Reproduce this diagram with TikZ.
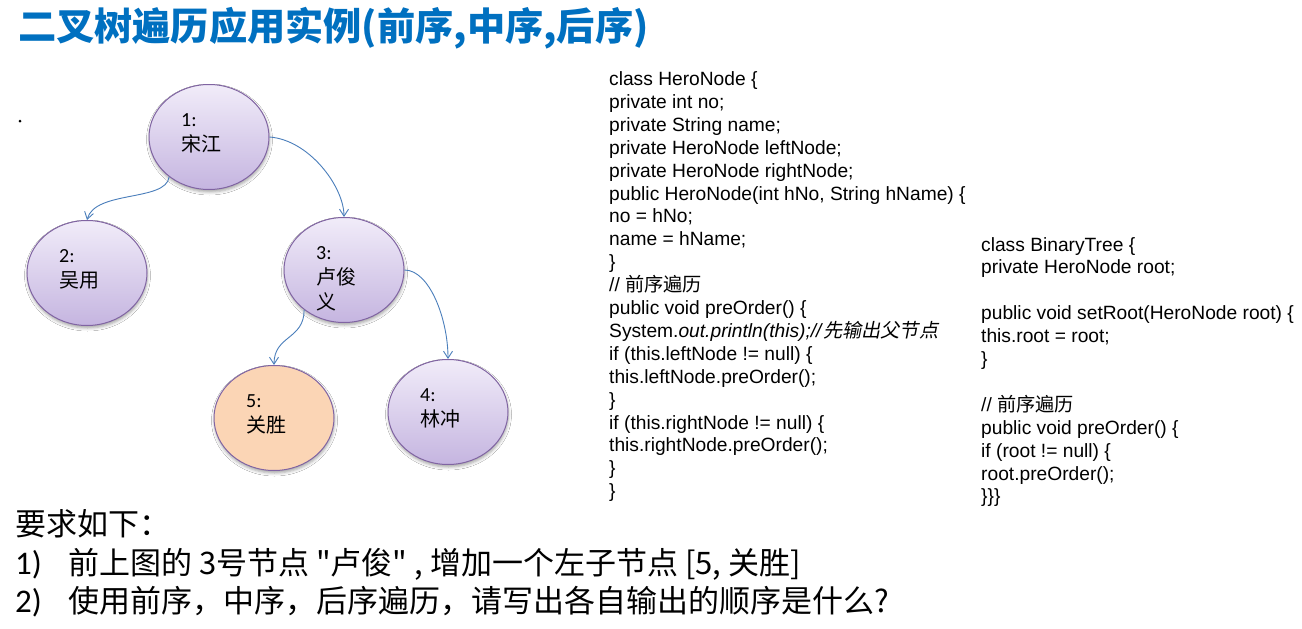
\documentclass[tikz,border=0pt]{standalone}
\usepackage{fontspec}
\setmainfont{Liberation Sans}
\newfontfamily\cjk{Noto Sans CJK SC}
\newfontfamily\cjkslant[FakeSlant=0.2]{Noto Sans CJK SC}
\newfontfamily\calibri{Carlito}
\usepackage{tikz}
\usetikzlibrary{arrows.meta, positioning, shapes.geometric, shadows.blur}
\definecolor{titleblue}{RGB}{0, 112, 192}
\definecolor{heroline}{RGB}{128, 100, 162}
\definecolor{herotop}{RGB}{241, 236, 249}
\definecolor{herobottom}{RGB}{197, 181, 224}
\definecolor{heropeach}{RGB}{251, 213, 181}
\definecolor{linkblue}{RGB}{74, 126, 187}

\begin{document}
\begin{tikzpicture}[x=1pt, y=-1pt,
    hero/.style={ellipse, draw=heroline, line width=1pt, minimum width=120pt, minimum height=105pt,
        top color=herotop, bottom color=herobottom,
        blur shadow={shadow xshift=0.5pt, shadow yshift=-2.5pt, shadow blur radius=3pt, shadow opacity=35}},
    heroname/.style={anchor=north west, inner sep=0pt, align=left, xshift=-28pt, yshift=24pt,
        font=\cjk\fontsize{20}{25}\selectfont},
    link/.style={draw=linkblue, line width=0.9pt, -{Straight Barb[length=7pt, width=9pt]}},
    codeline/.style={anchor=base west, inner sep=0pt, font=\fontsize{19.2}{23}\selectfont},
    ask/.style={anchor=base west, inner sep=0pt, font=\cjk\fontsize{31}{36}\selectfont},
    asknum/.style={ask, font=\calibri\fontsize{33}{38}\selectfont}]
    \useasboundingbox (0,0) rectangle (1302,629);
    \fill[white] (0,0) rectangle (1302,629);

    \node [anchor=west, inner sep=0pt, text=titleblue, font=\cjk\bfseries\fontsize{38.2}{44}\selectfont] (title) at (18,28) {二叉树遍历应用实例(前序,中序,后序)};
    \fill (20,121) circle (1.5pt);

    % the tree
    \node [hero] (song) at (209,137) {};
    \node [hero] (wuyong) at (87,273) {};
    \node [hero] (lujunyi) at (344,270) {};
    \node [hero, top color=heropeach, bottom color=heropeach] (guansheng) at (274,418) {};
    \node [hero] (linchong) at (448,412) {};

    \node [heroname] (songname) at (song) {{\calibri 1:}\\宋江};
    \node [heroname] (wuyongname) at (wuyong) {{\calibri 2:}\\吴用};
    \node [heroname] (lujunyiname) at (lujunyi) {{\calibri 3:}\\卢俊\\义};
    \node [heroname] (guanshengname) at (guansheng) {{\calibri 5:}\\关胜};
    \node [heroname] (linchongname) at (linchong) {{\calibri 4:}\\林冲};

    \draw [link] (song.225) .. controls +(-3,25) and +(8,-30) .. (wuyong.north);
    \draw [link] (song.east) .. controls +(40,3) and +(0,-30) .. (lujunyi.north);
    \draw [link] (lujunyi.225) .. controls +(0,30) and +(0,-30) .. (guansheng.north);
    \draw [link] (lujunyi.east) .. controls +(25,0) and +(0,-40) .. (linchong.north);

    % the code
    \foreach \txt [count=\i] in {{class HeroNode \{}, {private int no;}, {private String name;},
        {private HeroNode leftNode;}, {private HeroNode rightNode;},
        {public HeroNode(int hNo, String hName) \{}, {no = hNo;}, {name = hName;}, {\}},
        {// {\cjk 前序遍历}}, {public void preOrder() \{},
        {System.\textit{out.println(this);//}{\cjkslant 先输出父节点}},
        {if (this.leftNode != null) \{}, {this.leftNode.preOrder();}, {\}},
        {if (this.rightNode != null) \{}, {this.rightNode.preOrder();}, {\}}, {\}}}
        \node [codeline] (hero\i) at (609, 85.5+22.9*\i-22.9) {\txt};

    \foreach \txt [count=\i] in {{class BinaryTree \{}, {private HeroNode root;}, {},
        {public void setRoot(HeroNode root) \{}, {this.root = root;}, {\}}, {},
        {// {\cjk 前序遍历}}, {public void preOrder() \{}, {if (root != null) \{},
        {root.preOrder();}, {\}\}\}}}
        \node [codeline] (tree\i) at (981, 251+22.9*\i-22.9) {\txt};

    % the task
    \node [ask] (task) at (15,535) {要求如下：};
    \node [asknum] (num1) at (15,574) {1)};
    \node [ask] (task1) at (68,574) {前上图的 3号节点 "卢俊" , 增加一个左子节点 [5, 关胜]};
    \node [asknum] (num2) at (15,612) {2)};
    \node [ask] (task2) at (68,612) {使用前序，中序，后序遍历，请写出各自输出的顺序是什么?};
\end{tikzpicture}
\end{document}
